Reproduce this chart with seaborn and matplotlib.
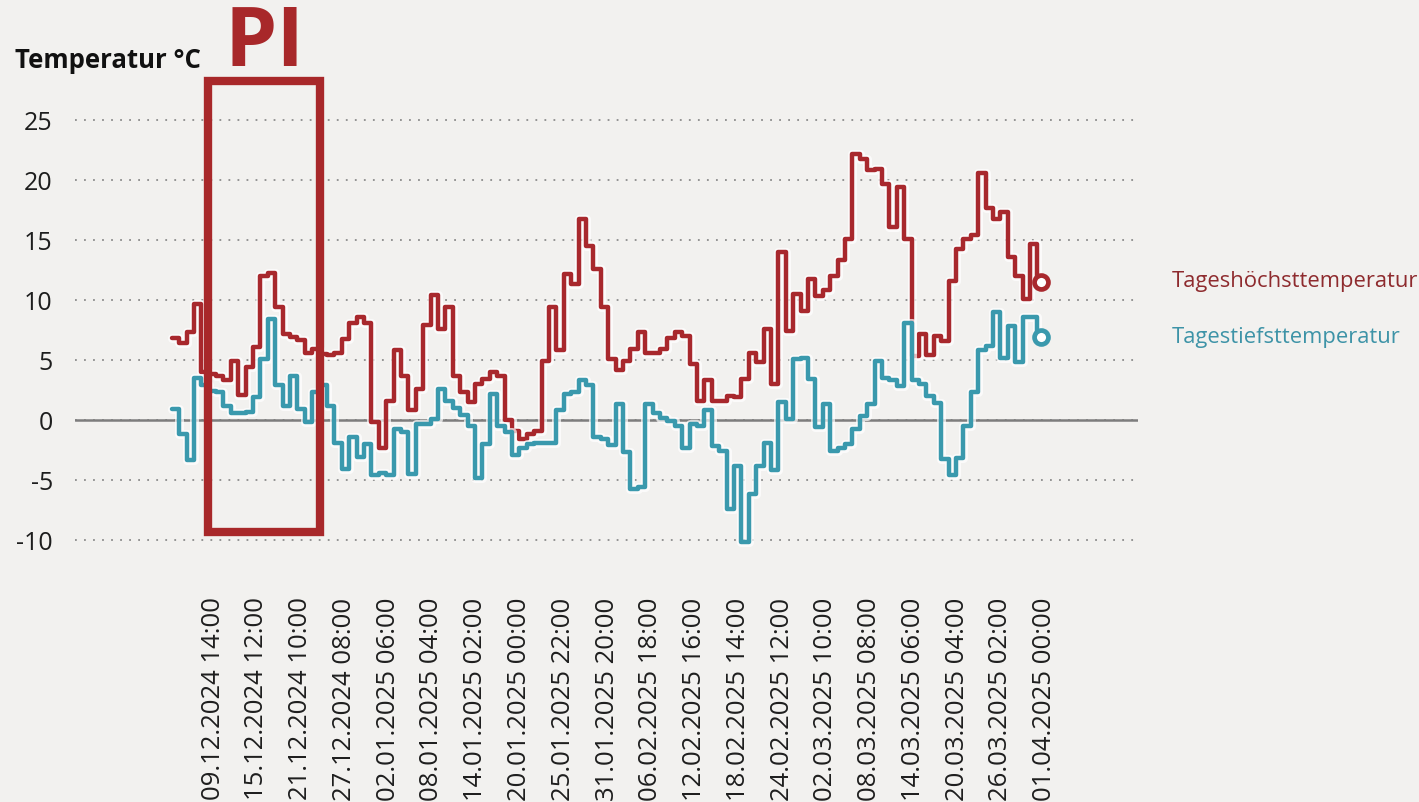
import numpy as np
import pandas as pd
import matplotlib
matplotlib.use("Agg")
import matplotlib.pyplot as plt
import matplotlib.patheffects as pe
from matplotlib.patches import Rectangle
import seaborn as sns

# ---------------- data ----------------
start_date = "2024-12-04"
series_names = ["Tageshöchsttemperatur", "Tagestiefsttemperatur"]

tmax = [
    6.8, 6.4, 7.3, 9.7, 4.0, 3.8, 3.7, 3.3, 4.9, 2.1,
    4.4, 6.05, 12.0, 12.25, 9.4, 7.2, 6.9, 6.7, 5.6, 5.9,
    5.5, 5.4, 5.6, 6.75, 8.1, 8.55, 8.1, -0.2, -2.3, 1.6,
    5.8, 3.7, 0.8, 2.6, 7.9, 10.4, 7.6, 9.4, 3.7, 2.3,
    1.5, 3.0, 3.4, 4.0, 3.7, 0.0, -0.9, -1.6, -1.2, -0.9,
    4.9, 9.4, 5.8, 12.2, 11.3, 16.75, 14.5, 12.6, 9.4, 5.1,
    4.2, 4.95, 5.9, 7.3, 5.6, 5.6, 5.9, 6.8, 7.3, 7.0,
    4.7, 1.6, 3.3, 1.6, 1.6, 2.0, 1.9, 3.4, 5.6, 4.8,
    7.6, 3.0, 14.0, 7.4, 10.5, 9.1, 11.75, 10.3, 10.8, 12.0,
    13.3, 15.1, 22.2, 21.75, 20.8, 20.9, 19.7, 16.1, 19.4, 15.1,
    5.3, 7.2, 5.4, 7.0, 6.6, 11.6, 14.25, 15.1, 15.4, 20.6,
    17.7, 16.75, 17.3, 13.6, 12.0, 10.1, 14.7, 11.5,
]

tmin = [
    0.9, -1.2, -3.3, 3.5, 2.9, 2.4, 2.3, 1.2, 0.6, 0.6,
    0.7, 1.9, 5.1, 8.4, 2.9, 1.2, 3.7, 0.9, -0.2, 2.3,
    2.9, 1.2, -1.9, -4.1, -1.45, -3.1, -2.0, -4.6, -4.4, -4.6,
    -0.75, -1.0, -4.5, -0.3, -0.3, 0.1, 2.6, 1.6, 1.0, 0.4,
    -0.5, -4.8, -2.0, 2.2, -0.5, -1.0, -2.95, -2.3, -2.0, -1.9,
    -1.9, -1.9, 0.8, 2.2, 2.3, 3.3, 2.9, -1.45, -1.6, -2.1,
    1.3, -2.7, -5.75, -5.6, 1.3, 0.6, 0.2, -0.1, -0.5, -2.3,
    -0.3, -0.5, 0.8, -2.2, -2.6, -7.4, -3.8, -10.2, -6.2, -3.8,
    -1.9, -4.2, 1.5, 0.1, 5.1, 5.2, 3.4, -0.6, 1.3, -2.55,
    -2.3, -2.0, -0.75, 0.35, 1.3, 4.9, 3.5, 3.3, 2.85, 8.1,
    3.3, 3.0, 2.0, 1.4, -3.25, -4.6, -3.2, -0.5, 2.3, 5.8,
    6.2, 9.0, 5.2, 7.8, 4.8, 8.6, 8.6, 6.9,
]

tick_labels = [
    "09.12.2024 14:00", "15.12.2024 12:00", "21.12.2024 10:00", "27.12.2024 08:00",
    "02.01.2025 06:00", "08.01.2025 04:00", "14.01.2025 02:00", "20.01.2025 00:00",
    "25.01.2025 22:00", "31.01.2025 20:00", "06.02.2025 18:00", "12.02.2025 16:00",
    "18.02.2025 14:00", "24.02.2025 12:00", "02.03.2025 10:00", "08.03.2025 08:00",
    "14.03.2025 06:00", "20.03.2025 04:00", "26.03.2025 02:00", "01.04.2025 00:00",
]
y_ticks = [-10, -5, 0, 5, 10, 15, 20, 25]
title_text = "Temperatur °C"
pi_text = "PI"

# ---------------- styling ----------------
bg = "#f2f1ef"
red = "#a8282d"
blue = "#3a99ad"
red_text = "#8e2b2e"
blue_text = "#3d93a7"
pi_color = "#a8282a"

sns.set_theme(style="white")
plt.rcParams["font.family"] = ["Open Sans", "DejaVu Sans"]
plt.rcParams["axes.unicode_minus"] = False

W, H = 1419, 803
fig = plt.figure(figsize=(W / 100, H / 100), dpi=100, facecolor=bg)
ax = fig.add_axes([75 / W, (H - 553) / H, (1138 - 75) / W, (553 - 109) / H])
ax.set_facecolor(bg)

# build long-form frame (daily steps, last segment ends at midday)
dates = pd.date_range(start_date, periods=len(tmax), freq="D")
end_time = dates[-1] + pd.Timedelta(hours=12)
x_all = list(dates) + [end_time]
frames = []
for name, vals in zip(series_names, [tmax, tmin]):
    frames.append(pd.DataFrame({"Zeit": x_all, "Wert": list(vals) + [vals[-1]], "Reihe": name}))
df = pd.concat(frames, ignore_index=True)

halo = [pe.Stroke(linewidth=6.5, foreground="white", alpha=0.7), pe.Normal()]
palette = {series_names[0]: red, series_names[1]: blue}

ax.set_yticks(y_ticks)
ax.grid(axis="y", linestyle=(0, (1, 4)), color="#8c8c8c", linewidth=1.3)
ax.grid(axis="x", visible=False)
ax.axhline(0, color="#7d7d7d", linewidth=1.8, zorder=1)

sns.lineplot(data=df, x="Zeit", y="Wert", hue="Reihe", palette=palette,
             drawstyle="steps-post", linewidth=3.2, legend=False, ax=ax,
             path_effects=halo, zorder=3, estimator=None, sort=True)

end_df = pd.DataFrame({"Zeit": [end_time, end_time], "Wert": [tmax[-1], tmin[-1]],
                       "Reihe": series_names})
for name, col in zip(series_names, [red, blue]):
    sub = end_df[end_df["Reihe"] == name]
    sns.scatterplot(data=sub, x="Zeit", y="Wert", ax=ax, s=100, marker="o",
                    facecolor="white", edgecolor=col, linewidth=3.4, zorder=4,
                    legend=False)

for s in ax.spines.values():
    s.set_visible(False)

x0 = pd.Timestamp(start_date)
ax.set_xlim(x0 - pd.Timedelta(days=13.07), x0 + pd.Timedelta(days=130.6))
ax.set_ylim(-11, 26)

tick_pos = pd.to_datetime(tick_labels, format="%d.%m.%Y %H:%M")
ax.set_xticks(tick_pos)
ax.set_xticklabels(tick_labels, rotation=90, fontsize=18.5, color="#1e1e1e")
ax.set_yticklabels([str(v) for v in y_ticks], fontsize=18, color="#1e1e1e")
ax.tick_params(axis="x", length=0, pad=32)
ax.tick_params(axis="y", length=0, pad=16)
ax.set_xlabel("")
ax.set_ylabel("")

fig.text(15 / W, 1 - 60 / H, title_text, fontsize=18.5, fontweight="bold",
         color="#111111", ha="left", va="center")

fig.text(1172 / W, 1 - 281 / H, series_names[0], fontsize=15.8, color=red_text,
         ha="left", va="center")
fig.text(1172 / W, 1 - 338 / H, series_names[1], fontsize=15.8, color=blue_text,
         ha="left", va="center")

# PI annotation box
fig.add_artist(Rectangle((208 / W, 1 - 533 / H), (320 - 208) / W, (533 - 82) / H,
                         transform=fig.transFigure, fill=False, edgecolor=pi_color,
                         linewidth=6, zorder=10))
fig.text(265 / W, 1 - 44 / H, pi_text, fontsize=60, fontweight="bold", color=pi_color,
         ha="center", va="center")

fig.savefig("out.png", dpi=100, facecolor=bg)
